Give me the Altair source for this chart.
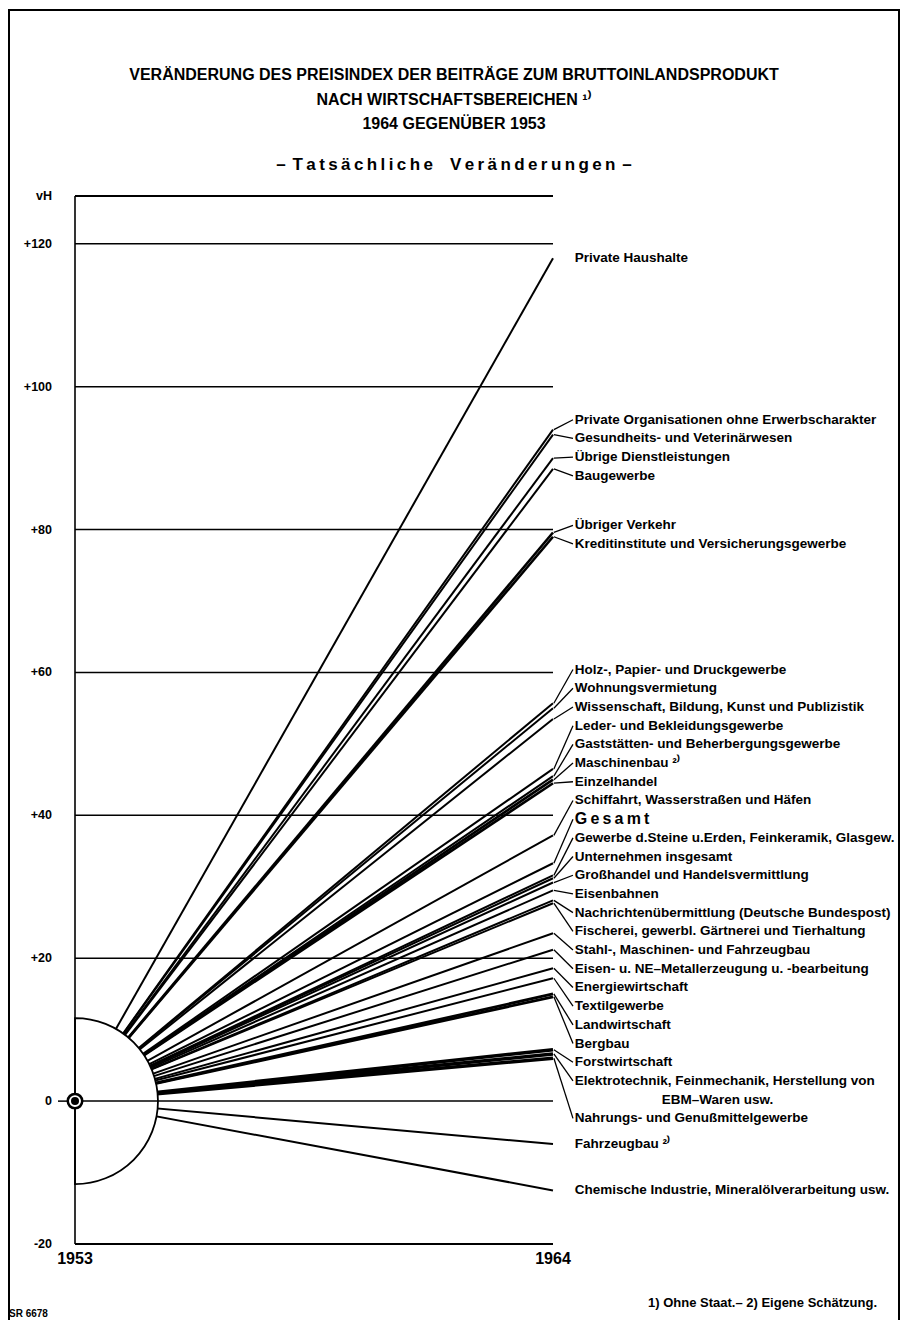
import altair as alt
import pandas as pd

# ---------------- data ----------------
sectors = [
    "Private Haushalte",
    "Private Organisationen ohne Erwerbscharakter",
    "Gesundheits- und Veterinärwesen",
    "Übrige Dienstleistungen",
    "Baugewerbe",
    "Übriger Verkehr",
    "Kreditinstitute und Versicherungsgewerbe",
    "Holz-, Papier- und Druckgewerbe",
    "Wohnungsvermietung",
    "Wissenschaft, Bildung, Kunst und Publizistik",
    "Leder- und Bekleidungsgewerbe",
    "Gaststätten- und Beherbergungsgewerbe",
    "Maschinenbau ²⁾",
    "Einzelhandel",
    "Schiffahrt, Wasserstraßen und Häfen",
    "Gesamt",
    "Gewerbe d.Steine u.Erden, Feinkeramik, Glasgew.",
    "Unternehmen insgesamt",
    "Großhandel und Handelsvermittlung",
    "Eisenbahnen",
    "Nachrichtenübermittlung (Deutsche Bundespost)",
    "Fischerei, gewerbl. Gärtnerei und Tierhaltung",
    "Stahl-, Maschinen- und Fahrzeugbau",
    "Eisen- u. NE–Metallerzeugung u. -bearbeitung",
    "Energiewirtschaft",
    "Textilgewerbe",
    "Landwirtschaft",
    "Bergbau",
    "Forstwirtschaft",
    "Elektrotechnik, Feinmechanik, Herstellung von",
    "Nahrungs- und Genußmittelgewerbe",
    "Fahrzeugbau ²⁾",
    "Chemische Industrie, Mineralölverarbeitung usw.",
]
change_1964 = [
    118.0, 94.0, 93.3, 90.0, 88.5, 79.6, 79.0,
    55.7, 55.0, 53.5, 46.5, 45.5, 45.0, 44.5,
    37.2, 33.3, 31.6, 31.2, 30.6, 29.5, 28.1, 27.7,
    23.5, 21.2, 18.6, 17.2, 15.0, 14.6,
    7.2, 6.6, 6.0, -6.0, -12.5,
]
second_line = {"Elektrotechnik, Feinmechanik, Herstellung von": "EBM–Waren usw."}
y_ticks = [-20, 0, 20, 40, 60, 80, 100, 120]
y_tick_labels = ["-20", "0", "+20", "+40", "+60", "+80", "+100", "+120"]
years = [1953, 1964]
Y_MIN, Y_TOP = -20, 126.7
UNIT_LABEL = "vH"
title_lines = [
    "VERÄNDERUNG DES PREISINDEX DER BEITRÄGE ZUM BRUTTOINLANDSPRODUKT",
    "NACH WIRTSCHAFTSBEREICHEN ¹⁾",
    "1964 GEGENÜBER 1953",
]
subtitle = "–\u2009\u2009T\u2009a\u2009t\u2009s\u2009ä\u2009c\u2009h\u2009l\u2009i\u2009c\u2009h\u2009e\u2003V\u2009e\u2009r\u2009ä\u2009n\u2009d\u2009e\u2009r\u2009u\u2009n\u2009g\u2009e\u2009n\u2009\u2009–"
footnote_text = "1) Ohne Staat.– 2) Eigene Schätzung."
code_text = "SR 6678"

# ---------------- styling ----------------
FONT = "Liberation Sans, Arial, sans-serif"
PLOT_W, PLOT_H = 478, 1048
line_width = {
    "Forstwirtschaft": 3.5,
    "Elektrotechnik, Feinmechanik, Herstellung von": 3.5,
    "Nahrungs- und Genußmittelgewerbe": 3.5,
    "Landwirtschaft": 2.8,
    "Bergbau": 2.8,
    "Maschinenbau ²⁾": 2.6,
    "Einzelhandel": 2.6,
    "Übriger Verkehr": 2.6,
    "Kreditinstitute und Versicherungsgewerbe": 2.6,
}
DEFAULT_W = 2.0
LABEL_FS = 13.5

# ---------------- label de-overlap (in data units) ----------------
px_per_unit = PLOT_H / (Y_TOP - Y_MIN)
SLOT = 18.7 / px_per_unit
n = len(sectors)
slots = [2 if sectors[i] in second_line else 1 for i in range(n)]
order = sorted(range(n), key=lambda i: -change_1964[i])


def place(cl):
    offs, o = [], 0
    for i in cl:
        offs.append(o)
        o += slots[i]
    top = sum(change_1964[i] + offs[k] * SLOT for k, i in enumerate(cl)) / len(cl)
    return top, offs, o


clusters = []
for i in order:
    clusters.append([i])
    while len(clusters) > 1:
        tp, _, totp = place(clusters[-2])
        tc, _, _ = place(clusters[-1])
        if tc > tp - (totp - 1) * SLOT - SLOT:
            clusters = clusters[:-2] + [clusters[-2] + clusters[-1]]
        else:
            break

label_pos, in_group = {}, {}
for cl in clusters:
    top, offs, _ = place(cl)
    for k, i in enumerate(cl):
        label_pos[i] = top - offs[k] * SLOT
        in_group[i] = len(cl) > 1

# ---------------- tables ----------------
lines_df = pd.DataFrame({
    "name": sectors,
    "x0": [years[0]] * n,
    "y0": [0.0] * n,
    "x1": [years[1]] * n,
    "y1": change_1964,
    "w": [line_width.get(s, DEFAULT_W) for s in sectors],
})

LABEL_X = years[1] + 0.5
labels_rows, second_rows, leader_rows = [], [], []
for i, s in enumerate(sectors):
    disp = "G\u2009e\u2009s\u2009a\u2009m\u2009t" if s == "Gesamt" else s
    labels_rows.append({"text": disp, "x": LABEL_X, "y": label_pos[i],
                        "fs": 16 if s == "Gesamt" else LABEL_FS})
    if s in second_line:
        second_rows.append({"text": second_line[s], "x": LABEL_X, "y": label_pos[i] - SLOT})
    if in_group[i]:
        leader_rows.append({"x": years[1] + 0.02, "y": change_1964[i],
                            "x2": years[1] + 0.46, "y2": label_pos[i]})
labels_df = pd.DataFrame(labels_rows)
second_df = pd.DataFrame(second_rows)
leaders_df = pd.DataFrame(leader_rows)
origin_df = pd.DataFrame({"x": [years[0]], "y": [0.0]})

grid_vals = y_ticks + [Y_TOP]
grid_df = pd.DataFrame({
    "y": grid_vals,
    "x": [years[0]] * len(grid_vals),
    "x2": [years[1]] * len(grid_vals),
    "w": [2.0 if v in (Y_MIN, Y_TOP) else 1.5 for v in grid_vals],
})
ylab_df = pd.DataFrame({
    "y": grid_vals,
    "x": [years[0]] * len(grid_vals),
    "t": y_tick_labels + [UNIT_LABEL],
})
xlab_df = pd.DataFrame({"x": years, "y": [Y_MIN] * 2, "t": [str(v) for v in years]})
yaxis_df = pd.DataFrame({"x": [years[0]], "y": [Y_MIN], "y2": [Y_TOP]})

xs = alt.Scale(domain=years, nice=False, zero=False)
ys = alt.Scale(domain=[Y_MIN, Y_TOP], nice=False, zero=False)
X = lambda f: alt.X(f, scale=xs, axis=None)
Y = lambda f: alt.Y(f, scale=ys, axis=None)

lines = alt.Chart(lines_df).mark_rule(color="black", strokeCap="butt").encode(
    x=X("x0:Q"), y=Y("y0:Q"), x2="x1:Q", y2="y1:Q",
    strokeWidth=alt.StrokeWidth("w:Q", scale=None, legend=None),
)

half_disc = alt.Chart(origin_df).mark_arc(
    radius=83, theta=0, theta2=3.14159265, fill="white", stroke="black", strokeWidth=1.8
).encode(x=X("x:Q"), y=Y("y:Q"))

grid = alt.Chart(grid_df).mark_rule(color="black").encode(
    x=X("x:Q"), x2="x2:Q", y=Y("y:Q"),
    strokeWidth=alt.StrokeWidth("w:Q", scale=None, legend=None),
)
y_axis_line = alt.Chart(yaxis_df).mark_rule(color="black", strokeWidth=1.6).encode(
    x=X("x:Q"), y=Y("y:Q"), y2="y2:Q"
)
y_labels = alt.Chart(ylab_df).mark_text(
    align="right", baseline="middle", dx=-23, font=FONT, fontSize=12.5,
    fontWeight="bold", color="black"
).encode(x=X("x:Q"), y=Y("y:Q"), text="t:N")
x_labels = alt.Chart(xlab_df).mark_text(
    align="center", baseline="top", dy=7, font=FONT, fontSize=16,
    fontWeight="bold", color="black"
).encode(x=X("x:Q"), y=Y("y:Q"), text="t:N")

zero_dash = alt.Chart(origin_df).mark_rule(
    color="black", strokeWidth=1.5, xOffset=-17, x2Offset=-8
).encode(x=X("x:Q"), x2="x:Q", y=Y("y:Q"))

ring = alt.Chart(origin_df).mark_point(
    shape="circle", size=210, filled=True, fill="white", stroke="black", strokeWidth=2.5, opacity=1
).encode(x=X("x:Q"), y=Y("y:Q"))
dot = alt.Chart(origin_df).mark_point(
    shape="circle", size=64, filled=True, color="black", opacity=1
).encode(x=X("x:Q"), y=Y("y:Q"))

leaders = alt.Chart(leaders_df).mark_rule(color="black", strokeWidth=1.3).encode(
    x=X("x:Q"), y=Y("y:Q"), x2="x2:Q", y2="y2:Q"
)

labels = alt.Chart(labels_df).mark_text(
    align="left", baseline="middle", font=FONT, fontWeight="bold", color="black"
).encode(
    x=X("x:Q"), y=Y("y:Q"),
    text="text:N",
    size=alt.Size("fs:Q", scale=None, legend=None),
)
labels2 = alt.Chart(second_df).mark_text(
    align="left", baseline="middle", dx=87, font=FONT, fontSize=LABEL_FS,
    fontWeight="bold", color="black"
).encode(x=X("x:Q"), y=Y("y:Q"), text="text:N")

note_df = pd.DataFrame({"a": [0]})


def free_text(txt, x, y, size, align="center"):
    return alt.Chart(note_df).mark_text(
        text=txt, align=align, baseline="middle", font=FONT, fontSize=size,
        fontWeight="bold", color="black"
    ).encode(x=alt.value(x), y=alt.value(y))


TITLE_X = 379
titles = [free_text(t, TITLE_X, y, 16) for t, y in zip(title_lines, [-121, -96, -72])]
titles.append(free_text(subtitle, TITLE_X, -31, 17))
footnote = free_text(footnote_text, 573, 1107, 13, "left")
code = free_text(code_text, -66, 1118, 10, "left")

frame = alt.Chart(note_df).mark_rect(
    fillOpacity=0, stroke="black", strokeWidth=2
).encode(x=alt.value(-66), x2=alt.value(824), y=alt.value(-186), y2=alt.value(1300))

chart = alt.layer(
    frame, lines, half_disc, grid, y_axis_line, zero_dash, y_labels, x_labels,
    leaders, labels, labels2, ring, dot, *titles, footnote, code
).properties(
    width=PLOT_W, height=PLOT_H,
    autosize="none",
    padding={"left": 67, "top": 188, "right": 347, "bottom": 76},
    background="white",
).configure_view(stroke=None)

chart.save("out.html", embed_options={"renderer": "svg", "actions": False})
